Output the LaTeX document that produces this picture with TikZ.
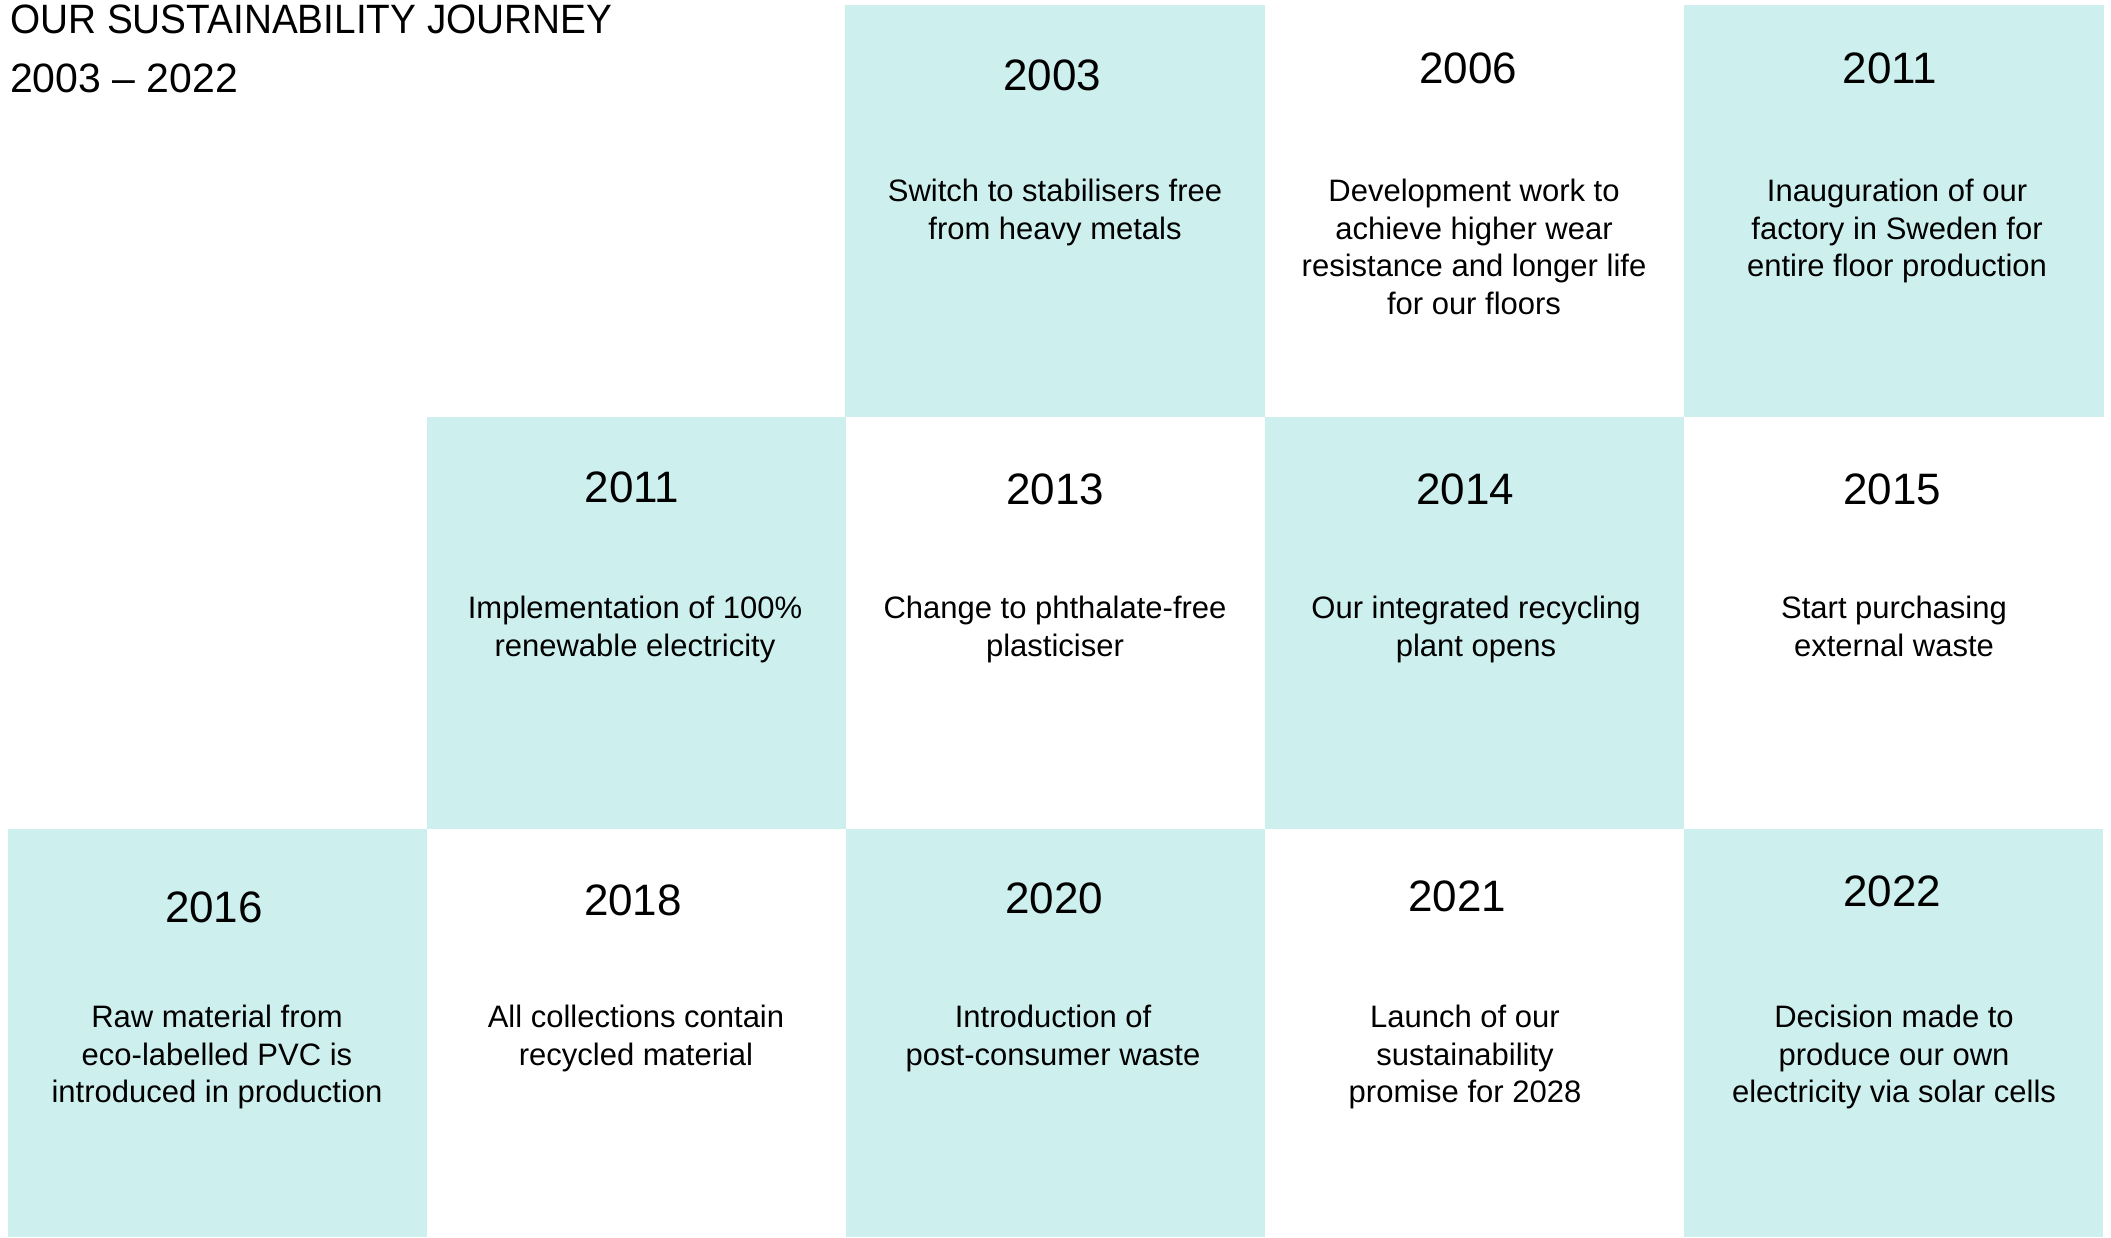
\documentclass[tikz,border=0pt]{standalone}
\usepackage{fontspec}
\setmainfont{Liberation Sans}
\newfontfamily\titlefont[FakeStretch=0.945]{Liberation Sans}
\definecolor{tealbg}{RGB}{205,240,238}
\begin{document}
\begin{tikzpicture}[x=1pt,y=-1pt,
  cellfill/.style={fill=tealbg},
  yearlbl/.style={anchor=base,inner sep=0pt,font=\fontsize{44}{50}\selectfont},
  bodylbl/.style={anchor=base,inner sep=0pt,align=center,font=\fontsize{31}{37.5}\selectfont},
  titlelbl/.style={anchor=base west,inner sep=0pt}]
\useasboundingbox[fill=white] (0,0) rectangle (2111,1237);
% teal cells
\fill[cellfill] (845,5) rectangle (1265,417);
\fill[cellfill] (1684,5) rectangle (2104,417);
\fill[cellfill] (427,417) rectangle (846,829);
\fill[cellfill] (1265,417) rectangle (1684,829);
\fill[cellfill] (8,829) rectangle (427,1237);
\fill[cellfill] (846,829) rectangle (1265,1237);
\fill[cellfill] (1684,829) rectangle (2103,1237);
% title
\node[titlelbl,font=\titlefont\fontsize{41}{48}\selectfont] (t1) at (10,33) {OUR SUSTAINABILITY JOURNEY};
\node[titlelbl,font=\fontsize{41}{48}\selectfont] (t2) at (10,92) {2003 – 2022};
% row 1
\node[yearlbl] (y2003) at (1052,90) {2003};
\node[bodylbl] (b2003) at (1055,239) {Switch to stabilisers free\\from heavy metals};
\node[yearlbl] (y2006) at (1468,83) {2006};
\node[bodylbl] (b2006) at (1474,314) {Development work to\\achieve higher wear\\resistance and longer life\\for our floors};
\node[yearlbl] (y2011a) at (1890,83) {2011};
\node[bodylbl] (b2011a) at (1897,276.5) {Inauguration of our\\factory in Sweden for\\entire floor production};
% row 2
\node[yearlbl] (y2011b) at (632,502) {2011};
\node[bodylbl] (b2011b) at (635,656) {Implementation of 100\%\\renewable electricity};
\node[yearlbl] (y2013) at (1055,504) {2013};
\node[bodylbl] (b2013) at (1055,656) {Change to phthalate-free\\plasticiser};
\node[yearlbl] (y2014) at (1465,504) {2014};
\node[bodylbl] (b2014) at (1476,656) {Our integrated recycling\\plant opens};
\node[yearlbl] (y2015) at (1892,504) {2015};
\node[bodylbl] (b2015) at (1894,656) {Start purchasing\\external waste};
% row 3
\node[yearlbl] (y2016) at (214,922) {2016};
\node[bodylbl] (b2016) at (217,1102.5) {Raw material from\\eco-labelled PVC is\\introduced in production};
\node[yearlbl] (y2018) at (633,915) {2018};
\node[bodylbl] (b2018) at (636,1065) {All collections contain\\recycled material};
\node[yearlbl] (y2020) at (1054,913) {2020};
\node[bodylbl] (b2020) at (1053,1065) {Introduction of\\post-consumer waste};
\node[yearlbl] (y2021) at (1457,911) {2021};
\node[bodylbl] (b2021) at (1465,1102.5) {Launch of our\\sustainability\\promise for 2028};
\node[yearlbl] (y2022) at (1892,906) {2022};
\node[bodylbl] (b2022) at (1894,1102.5) {Decision made to\\produce our own\\electricity via solar cells};
\end{tikzpicture}
\end{document}
